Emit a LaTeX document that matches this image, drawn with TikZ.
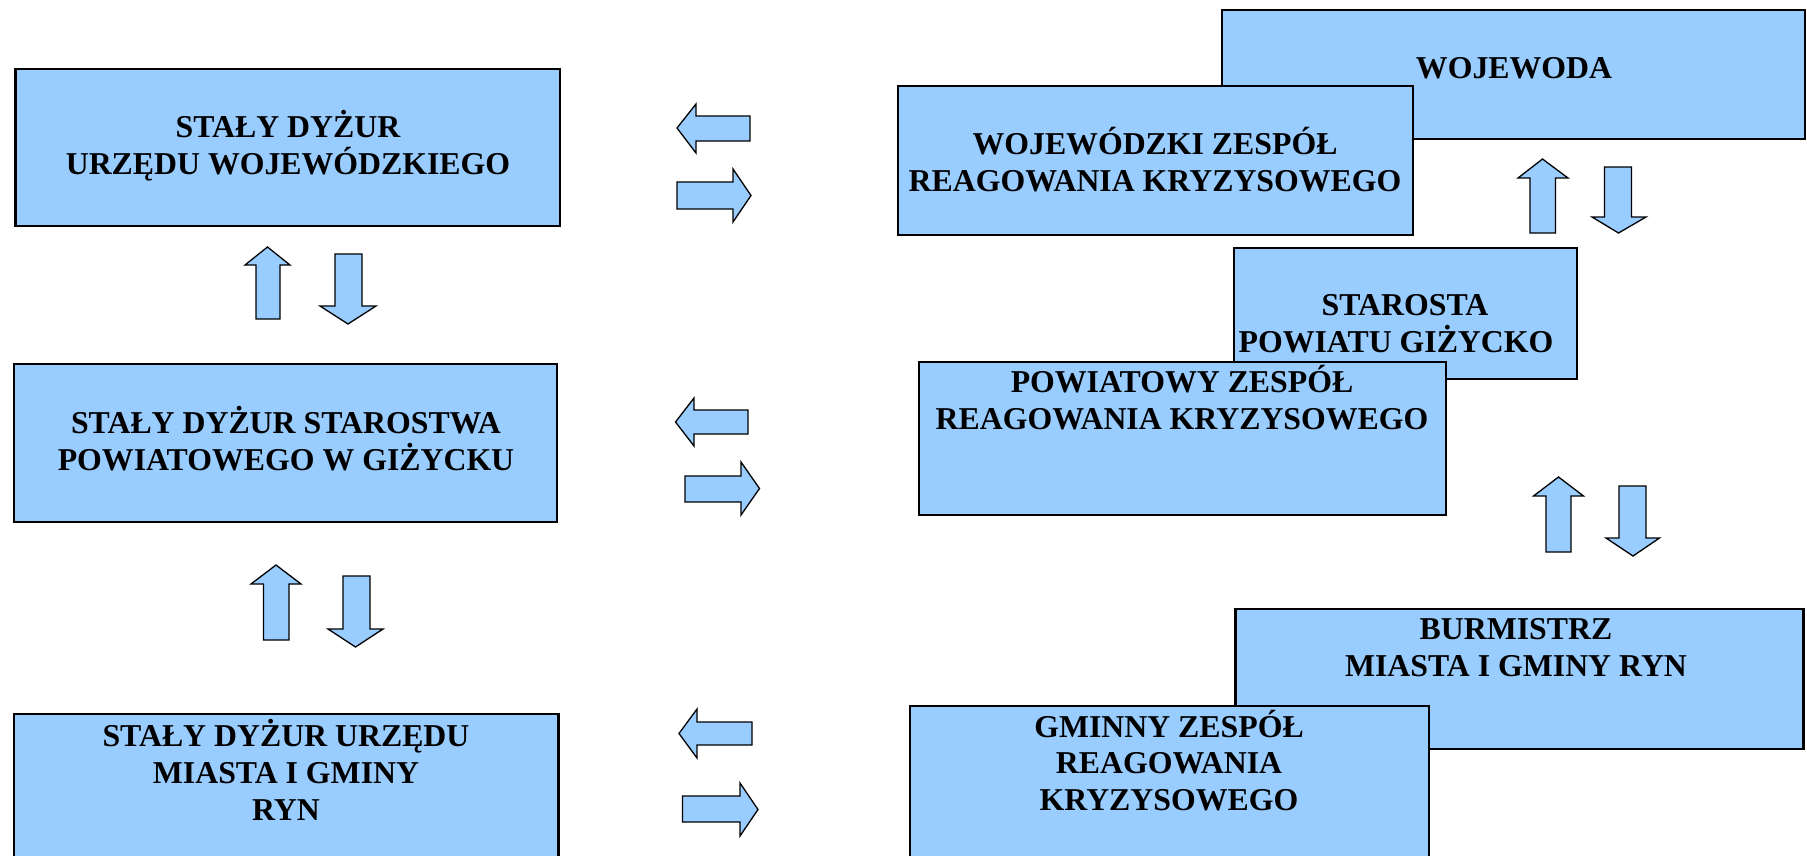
\documentclass[tikz,border=0pt]{standalone}
\usepackage{fontspec}
\setmainfont{Liberation Serif}
\definecolor{boxblue}{HTML}{99CCFF}
\tikzset{
  box/.style={draw=black, fill=boxblue, line width=2.2pt, inner sep=0pt},
  blk/.style={draw=black, fill=boxblue, line width=1.3pt, line join=miter},
  lbl/.style={anchor=base, inner sep=0pt, font=\bfseries\fontsize{31.8}{37}\selectfont},
}
\begin{document}
\begin{tikzpicture}[x=1pt,y=-1pt]
\useasboundingbox (0,0) rectangle (1807,855);
\clip (0,0) rectangle (1807,855);

% ---------- left column ----------
\node[box, minimum width=544.5pt, minimum height=157pt] (b1) at (287.75,147.5) {};
\node[lbl] (b1a) at (288,137) {STAŁY DYŻUR};
\node[lbl] (b1b) at (288,174) {URZĘDU WOJEWÓDZKIEGO};

\node[box, minimum width=543pt, minimum height=158pt] (b2) at (285.5,443) {};
\node[lbl] (b2a) at (286,433) {STAŁY DYŻUR STAROSTWA};
\node[lbl] (b2b) at (286,470) {POWIATOWEGO W GIŻYCKU};

\node[box, minimum width=544.5pt, minimum height=200pt] (b3) at (286.25,814) {};
\node[lbl] (b3a) at (286,746) {STAŁY DYŻUR URZĘDU};
\node[lbl] (b3b) at (286,783) {MIASTA I GMINY};
\node[lbl] (b3c) at (286,820) {RYN};

% ---------- right column ----------
\node[box, minimum width=583.5pt, minimum height=129pt] (w) at (1513.5,74.5) {};
\node[lbl] (wa) at (1514,78) {WOJEWODA};
\node[box, minimum width=515pt, minimum height=149pt] (wz) at (1155.5,160.5) {};
\node[lbl] (wza) at (1155,154) {WOJEWÓDZKI ZESPÓŁ};
\node[lbl] (wzb) at (1155,191) {REAGOWANIA KRYZYSOWEGO};

\node[box, minimum width=342.5pt, minimum height=131pt] (s) at (1405.5,313.5) {};
\node[lbl] (sa) at (1405,315) {STAROSTA};
\node[lbl] (sb) at (1396,352) {POWIATU GIŻYCKO};
\node[box, minimum width=527pt, minimum height=153pt] (pz) at (1182.5,438.5) {};
\node[lbl] (pza) at (1182,392) {POWIATOWY ZESPÓŁ};
\node[lbl] (pzb) at (1182,429) {REAGOWANIA KRYZYSOWEGO};

\node[box, minimum width=568pt, minimum height=140pt] (bm) at (1519.5,679) {};
\node[lbl] (bma) at (1516,639) {BURMISTRZ};
\node[lbl] (bmb) at (1516,676) {MIASTA I GMINY RYN};
\node[box, minimum width=519pt, minimum height=200pt] (gz) at (1169.5,806) {};
\node[lbl] (gza) at (1169,737) {GMINNY ZESPÓŁ};
\node[lbl] (gzb) at (1169,773) {REAGOWANIA};
\node[lbl] (gzc) at (1169,810) {KRYZYSOWEGO};

% ---------- horizontal block arrows ----------
% row 1
\draw[blk] (677,128) -- (696,104) -- (696,116) -- (750,116) -- (750,141) -- (696,141) -- (696,153) -- cycle;
\draw[blk] (677,182) -- (733,182) -- (733,169) -- (751,195.5) -- (733,222) -- (733,209) -- (677,209) -- cycle;
% row 2
\draw[blk] (675.5,422) -- (694,398) -- (694,410) -- (748,410) -- (748,434) -- (694,434) -- (694,446) -- cycle;
\draw[blk] (685,476) -- (741,476) -- (741,462) -- (759.5,488.5) -- (741,515) -- (741,502) -- (685,502) -- cycle;
% row 3
\draw[blk] (679,733.5) -- (697,709) -- (697,722) -- (752,722) -- (752,745) -- (697,745) -- (697,758) -- cycle;
\draw[blk] (682.5,796) -- (740,796) -- (740,783) -- (758,809.5) -- (740,836) -- (740,822) -- (682.5,822) -- cycle;

% ---------- vertical block arrows, left ----------
\draw[blk] (267.5,247) -- (290,265) -- (280,265) -- (280,319) -- (256,319) -- (256,265) -- (245,265) -- cycle;
\draw[blk] (335,254) -- (362,254) -- (362,306) -- (376,306) -- (348,324) -- (320,306) -- (335,306) -- cycle;
\draw[blk] (276,565) -- (301,584) -- (289,584) -- (289,640) -- (263.5,640) -- (263.5,584) -- (251,584) -- cycle;
\draw[blk] (343,576) -- (370,576) -- (370,629) -- (383,629) -- (355.5,647) -- (328,629) -- (343,629) -- cycle;

% ---------- vertical block arrows, right ----------
\draw[blk] (1542.5,159) -- (1568,178) -- (1555.5,178) -- (1555.5,233) -- (1530,233) -- (1530,178) -- (1518,178) -- cycle;
\draw[blk] (1604.5,167) -- (1631.5,167) -- (1631.5,217) -- (1646,217) -- (1618.5,233) -- (1592,217) -- (1604.5,217) -- cycle;
\draw[blk] (1558.5,477) -- (1583.5,496) -- (1571,496) -- (1571,552) -- (1546,552) -- (1546,496) -- (1533.5,496) -- cycle;
\draw[blk] (1619,486) -- (1646,486) -- (1646,538) -- (1659.5,538) -- (1633,556) -- (1606,538) -- (1619,538) -- cycle;
\end{tikzpicture}
\end{document}
